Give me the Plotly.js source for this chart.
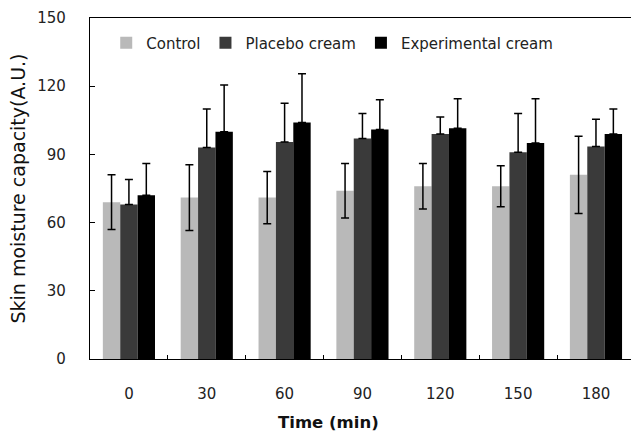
<!DOCTYPE html>
<html>
<head>
<meta charset="utf-8">
<script src="https://cdn.plot.ly/plotly-3.0.1.min.js"></script>
<style>html,body{margin:0;padding:0;background:#fff;}#chart{width:631px;height:436px;}</style>
</head>
<body>
<div id="chart"></div>
<script>
const timeLabels = ['0', '30', '60', '90', '120', '150', '180'];
const controlMean = [69, 71, 71, 74, 76, 76, 81];
const controlSD = [12, 14.5, 11.5, 12, 10, 9, 17];
const placeboMean = [68, 93, 95.5, 97, 99, 91, 93.5];
const placeboSD = [11, 17, 17, 11, 7.5, 17, 12];
const experimentalMean = [72, 100, 104, 101, 101.5, 95, 99];
const experimentalSD = [14, 20.5, 21.5, 13, 13, 19.5, 11];
const seriesNames = ['Control', 'Placebo cream', 'Experimental cream'];

function barTrace(name, y, sd, color, bothWays) {
  const err = {type: 'data', array: sd, visible: true, color: '#000', thickness: 1.5, width: 4};
  if (!bothWays) { err.symmetric = false; err.arrayminus = sd.map(() => 0); }
  return {
    type: 'bar', name: name, x: timeLabels, y: y,
    marker: {color: color, line: {width: 0}},
    error_y: err
  };
}

const data = [
  barTrace(seriesNames[0], controlMean, controlSD, '#b9b9b9', true),
  barTrace(seriesNames[1], placeboMean, placeboSD, '#3a3a3a', false),
  barTrace(seriesNames[2], experimentalMean, experimentalSD, '#000000', false)
];

const layout = {
  width: 631, height: 436,
  margin: {l: 90, r: 0, t: 18, b: 77, pad: 0},
  paper_bgcolor: '#fff', plot_bgcolor: '#fff',
  font: {family: 'DejaVu Sans, sans-serif', color: '#222'},
  barmode: 'group', bargap: 0.33, bargroupgap: 0,
  showlegend: true,
  legend: {orientation: 'h', x: 0.03, y: 0.975, xanchor: 'left', yanchor: 'top',
           font: {size: 15, color: '#222'}, bgcolor: 'rgba(0,0,0,0)', itemwidth: 30, traceorder: 'normal'},
  xaxis: {
    type: 'category', range: [-0.5, 6.45],
    showline: true, linecolor: '#000', linewidth: 1.2, mirror: true,
    ticks: 'inside', ticklen: 4, tickcolor: '#000', tickson: 'boundaries',
    ticklabelstandoff: 21,
    tickfont: {size: 15, color: '#222'}, showgrid: false, zeroline: false
  },
  yaxis: {
    range: [0, 150], dtick: 30, tick0: 0,
    showline: true, linecolor: '#000', linewidth: 1.2,
    ticks: 'inside', ticklen: 5, tickcolor: '#000',
    ticklabelstandoff: 20,
    tickfont: {size: 15, color: '#222'}, showgrid: false, zeroline: false,
    title: {text: 'Skin moisture capacity(A.U.)', font: {size: 19, color: '#111'}, standoff: 6}
  },
  annotations: [
    {text: '<b>Time (min)</b>', xref: 'paper', yref: 'paper', x: 0.44, y: -0.185,
     xanchor: 'center', yanchor: 'middle', showarrow: false, font: {size: 16.5, color: '#111'}}
  ]
};

Plotly.newPlot('chart', data, layout, {displayModeBar: false, staticPlot: true});
</script>
</body>
</html>
